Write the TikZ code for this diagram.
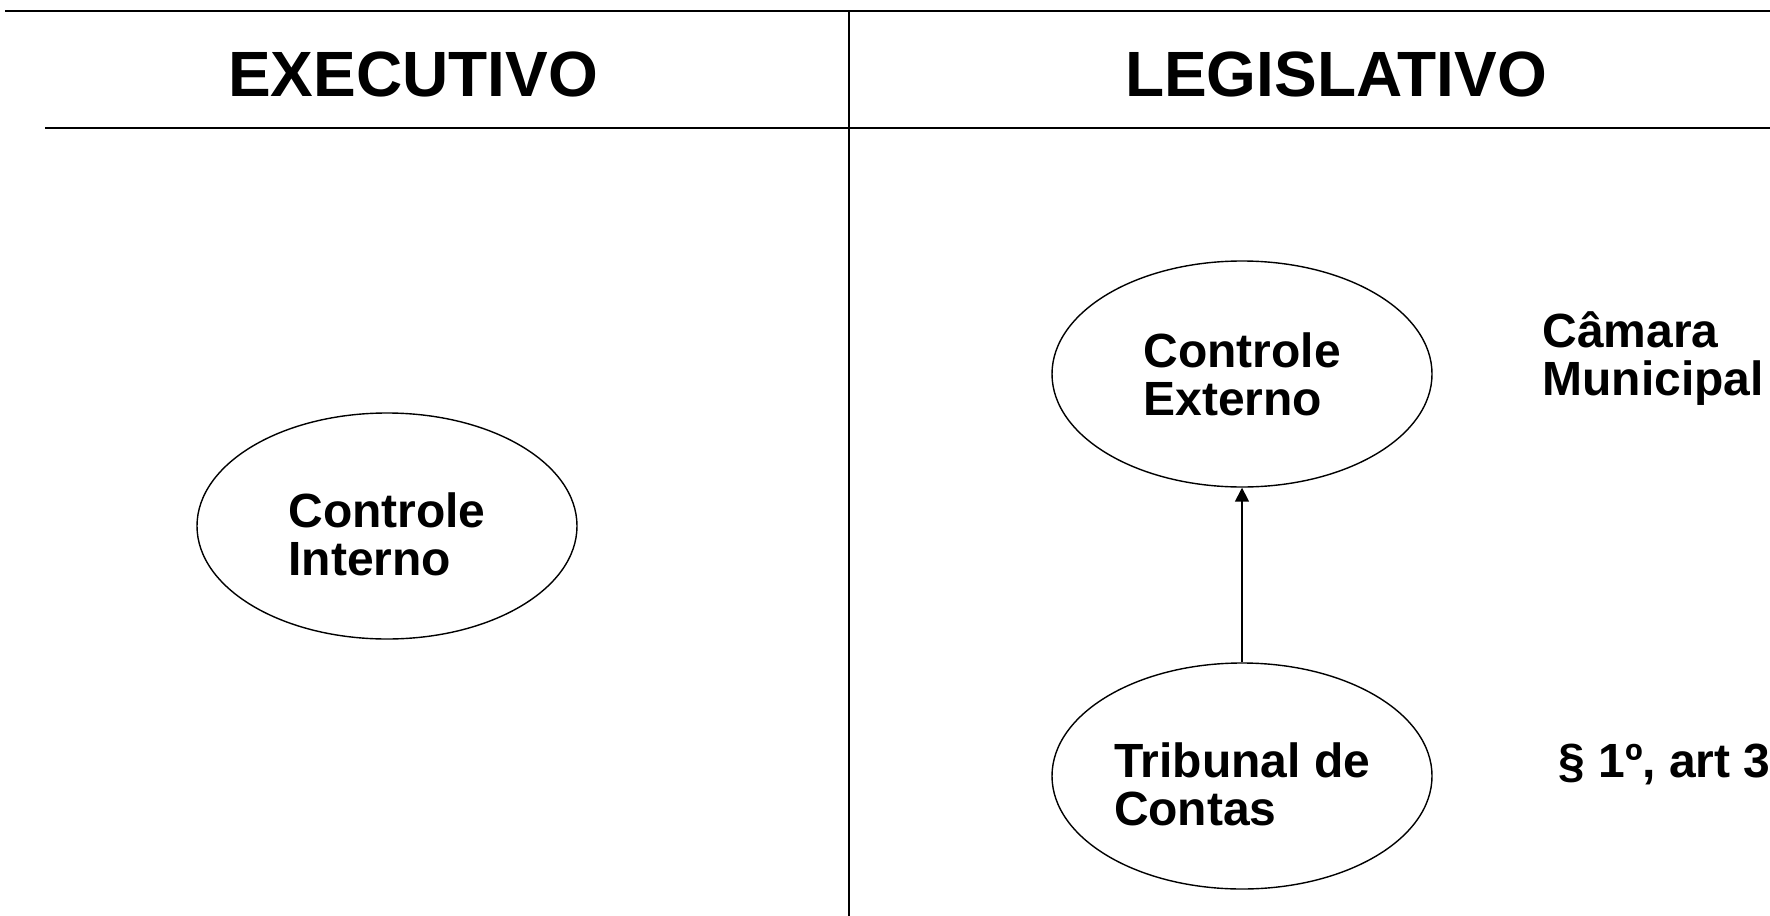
\documentclass[tikz,border=0pt]{standalone}
\usepackage{fontspec}
\setmainfont{Liberation Sans}
\usepackage{tikz}
\usetikzlibrary{shapes.geometric, arrows.meta, positioning}
\newcommand{\desce}{\rule{0pt}{25.5pt}}
\tikzset{
    poder/.style={anchor=base, font=\bfseries\fontsize{32}{32}\selectfont, inner sep=0pt},
    orgao/.style={ellipse, draw=black, line width=.7pt, minimum width=190pt, minimum height=113pt, align=left, inner sep=0pt, font=\bfseries\fontsize{24}{24}\selectfont},
    rotulo/.style={anchor=base west, align=left, inner sep=0pt, font=\bfseries\fontsize{24}{24}\selectfont},
    divisa/.style={line width=1.1pt},
}

\begin{document}
\begin{tikzpicture}[x=0.5pt, y=-0.5pt]
                \useasboundingbox (0,0) rectangle (1770,915);

                % grade
                \coordinate (topo e) at (5,11);
                \coordinate (topo d) at (1775,11);
                \coordinate (meio e) at (45,128);
                \coordinate (meio d) at (1775,128);
                \coordinate (div t) at (849,11);
                \coordinate (div b) at (849,920);
                \draw[divisa] (topo e) -- (topo d);
                \draw[divisa] (meio e) -- (meio d);
                \draw[divisa] (div t) -- (div b);

                % titulos
                \node[poder] (exec) at (413,97) {EXECUTIVO};
                \node[poder] (legis) at (1336,97) {LEGISLATIVO};

                % orgaos
                \node[orgao] (interno) at (387,526) {\desce Controle\\Interno};
                \node[orgao] (externo) at (1242,374) {Controle\\Externo};
                \node[orgao] (tribunal) at (1242,776) {\desce Tribunal de\\Contas};

                \draw[line width=.8pt, -{Triangle[length=7pt, width=7pt]}] (tribunal.north) -- (externo.south);

                % textos ao lado
                \node[rotulo] (camara) at (1542,395) {C\^amara\\Municipal};
                \node[rotulo] (artigo) at (1558,777) {\S{} 1º, art 3};

\end{tikzpicture}
\end{document}
